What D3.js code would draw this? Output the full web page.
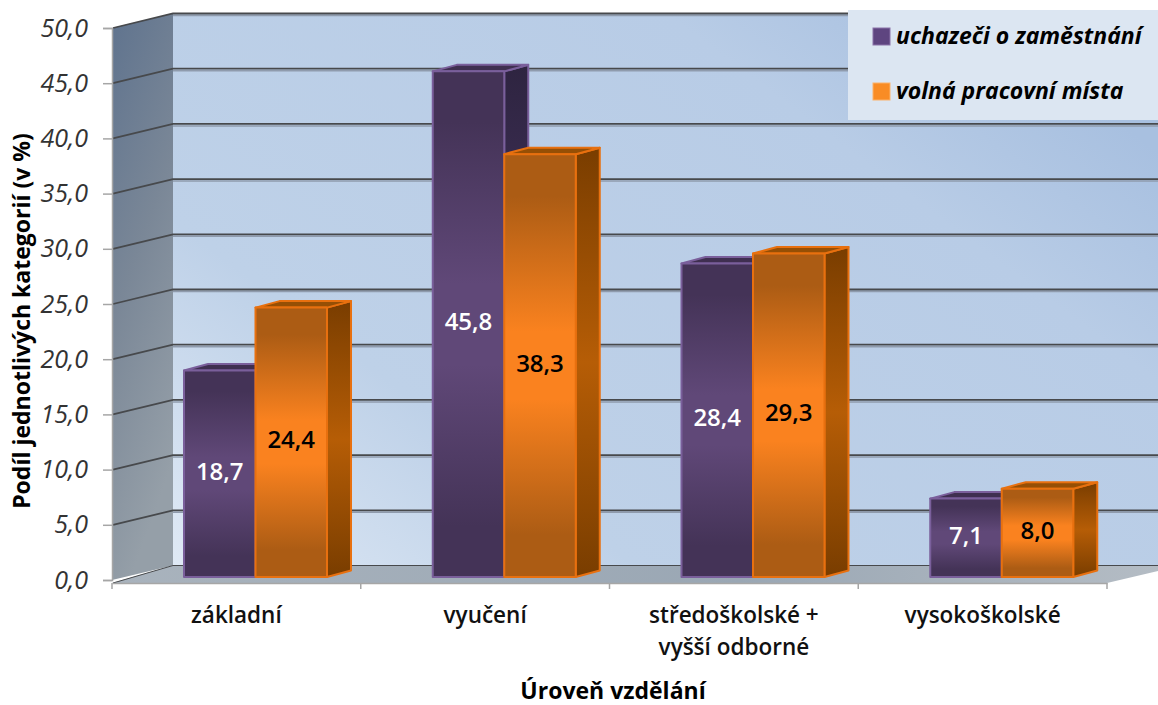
<!DOCTYPE html>
<html>
<head>
<meta charset="utf-8">
<title>Podíl jednotlivých kategorií</title>
<style>
    html, body { margin: 0; padding: 0; background: #fff; }
    svg { display: block; font-family: 'Open Sans', 'Noto Sans', sans-serif; }
</style>
</head>
<body>
<script src="https://d3js.org/d3.v7.min.js"></script>
<script>
    const categories = ['základní', 'vyučení', 'středoškolské +|vyšší odborné', 'vysokoškolské'];
    const seriesNames = ['uchazeči o zaměstnání', 'volná pracovní místa'];
    const uchazeci = [18.7, 45.8, 28.4, 7.1];
    const mista = [24.4, 38.3, 29.3, 8.0];
    const yTicks = [0, 5, 10, 15, 20, 25, 30, 35, 40, 45, 50];

    const width = 1158, height = 705;
    const fmt = d => d.toFixed(1).replace('.', ',');

    // front plane of the axis box, back wall is shifted by depth
    const plot = {left: 112, right: 1107, top: 28, bottom: 580};
    const depth = {x: 61, y: -14.5};
    const barDepth = {x: 24, y: -6.5};
    const barBase = -3; // bars stand a bit behind the front edge of the floor

    const x = d3.scaleBand().domain(categories).range([plot.left, plot.right]);
    const y = d3.scaleLinear().domain([0, 50]).range([plot.bottom, plot.top]);
    const inner = d3.scaleBand().domain([0, 1]).range([72, 215]);

    const svg = d3.select('body').append('svg')
        .attr('width', width)
        .attr('height', height);

    const defs = svg.append('defs');
    function gradient(id, stops, x1, y1, x2, y2) {
        const g = defs.append('linearGradient').attr('id', id)
            .attr('x1', x1).attr('y1', y1).attr('x2', x2).attr('y2', y2);
        stops.forEach(s => g.append('stop').attr('offset', s[0]).attr('stop-color', s[1]));
    }
    gradient('wall', [[0, '#dfe9f5'], [0.3, '#bed1e8'], [0.8, '#b8cce6'], [1, '#a8c0e0']], 0, 1, 1, 0.25);
    gradient('side', [[0, '#5f738e'], [0.5, '#7a8797'], [1, '#959fa8']], 0, 0, 0.3, 1);
    gradient('floor', [[0, '#a9b3bd'], [0.6, '#9aa7b4'], [1, '#b4bcc4']], 0, 0, 1, 0);
    const barColors = [
        {front: ['#443357', '#604878'], side: ['#2e2440', '#453460'], top: '#3f2f50', stroke: '#7a5f9b', label: '#fff'},
        {front: ['#ac5c14', '#fa821f'], side: ['#793d00', '#b65d06'], top: '#964f05', stroke: '#e8700f', label: '#000'}
    ];
    barColors.forEach((c, i) => {
        gradient('front' + i, [[0, c.front[0]], [0.1, c.front[0]], [0.42, c.front[1]], [0.58, c.front[1]], [0.9, c.front[0]], [1, c.front[0]]], 0, 0, 0, 1);
        gradient('sideg' + i, [[0, c.side[0]], [0.5, c.side[1]], [1, c.side[0]]], 0, 0, 0, 1);
    });

    const line = d3.line();

    // back wall, runs off the right edge of the picture
    svg.append('path')
        .attr('d', line([[plot.left + depth.x, y(50) + depth.y], [width, y(50) + depth.y], [width, y(0) + depth.y], [plot.left + depth.x, y(0) + depth.y]]) + 'Z')
        .attr('fill', 'url(#wall)');
    // left wall
    svg.append('path')
        .attr('d', line([[plot.left, y(50)], [plot.left + depth.x, y(50) + depth.y], [plot.left + depth.x, y(0) + depth.y], [plot.left, y(0)]]) + 'Z')
        .attr('fill', 'url(#side)');
    // floor
    svg.append('path')
        .attr('d', line([[plot.left, y(0) + 3], [plot.left + depth.x, y(0) + depth.y], [width, y(0) + depth.y], [width, y(0) - 9], [plot.right, y(0) + 3]]) + 'Z')
        .attr('fill', 'url(#floor)');

    // gridlines, with the soft shadow under each
    const grid = svg.append('g').selectAll('g').data(yTicks).join('g');
    grid.append('path')
        .attr('d', d => line([[plot.left + depth.x, y(d) + depth.y + 2], [width, y(d) + depth.y + 2]]))
        .attr('stroke', d => d === 0 ? 'none' : '#8f9bad').attr('stroke-width', 1.5).attr('fill', 'none');
    grid.append('path')
        .attr('d', d => line([[plot.left + 1, y(d) + (d === 0 ? 3 : 0)], [plot.left + depth.x, y(d) + depth.y], [width, y(d) + depth.y]]))
        .attr('stroke', '#47494c').attr('stroke-width', d => d === 0 ? 1 : 1.8).attr('fill', 'none');

    // bars
    const groups = svg.append('g').selectAll('g').data(categories).join('g')
        .attr('transform', d => 'translate(' + x(d) + ',0)');
    const values = [uchazeci, mista];
    function drawBar(sel, s, i) {
        const c = barColors[s];
        const v = values[s][i];
        const x0 = inner(s), x1 = inner(s) + inner.bandwidth();
        const y0 = y(0) + barBase, y1 = y0 - (y(0) - y(v));
        const dx = barDepth.x, dy = barDepth.y;
        const g = sel.append('g')
            .attr('stroke', c.stroke).attr('stroke-width', 2).attr('stroke-linejoin', 'round');
        g.append('path')
            .attr('d', line([[x1, y1], [x1 + dx, y1 + dy], [x1 + dx, y0 + dy], [x1, y0]]) + 'Z')
            .attr('fill', 'url(#sideg' + s + ')');
        g.append('path')
            .attr('d', line([[x0, y1], [x0 + dx, y1 + dy], [x1 + dx, y1 + dy], [x1, y1]]) + 'Z')
            .attr('fill', c.top);
        g.append('rect')
            .attr('x', x0).attr('y', y1)
            .attr('width', x1 - x0).attr('height', y0 - y1)
            .attr('fill', 'url(#front' + s + ')');
        sel.append('text')
            .attr('x', (x0 + x1) / 2)
            .attr('y', (y0 + y1) / 2 + 6)
            .attr('text-anchor', 'middle')
            .attr('font-size', 24).attr('font-weight', 600)
            .attr('fill', c.label)
            .text(fmt(v));
    }
    groups.each(function(d, i) {
        const g = d3.select(this);
        drawBar(g, 0, i);
        drawBar(g, 1, i);
    });

    // axes
    const axisY = svg.append('g').attr('transform', 'translate(' + plot.left + ',0)')
        .call(d3.axisLeft(y).tickValues(yTicks).tickFormat(fmt).tickSize(9).tickPadding(15));
    axisY.select('.domain').attr('stroke', '#a6a6a6').attr('stroke-width', 1.5);
    axisY.selectAll('.tick line').attr('stroke', '#a6a6a6').attr('stroke-width', 1.5);
    axisY.selectAll('.tick text')
        .attr('font-family', "'Open Sans', sans-serif")
        .attr('font-size', 25).attr('font-style', 'italic').attr('fill', '#333');

    const axisX = svg.append('g').attr('transform', 'translate(0,' + (plot.bottom + 3) + ')')
        .call(d3.axisBottom(x).tickValues([]).tickSize(0));
    axisX.select('.domain').attr('stroke', '#a6a6a6').attr('stroke-width', 1.5);
    axisX.selectAll('.edge').data(categories.map(d => x(d)).concat(plot.right)).join('line')
        .attr('class', 'edge')
        .attr('x1', d => d).attr('x2', d => d).attr('y1', 0).attr('y2', 6)
        .attr('stroke', '#a6a6a6').attr('stroke-width', 1.5);

    const catLabels = svg.append('g').selectAll('text').data(categories).join('text')
        .attr('text-anchor', 'middle')
        .attr('font-size', 22.5).attr('font-weight', 600).attr('fill', '#111')
        .attr('transform', d => 'translate(' + (x(d) + x.bandwidth() / 2) + ',623)');
    catLabels.selectAll('tspan').data(d => d.split('|')).join('tspan')
        .attr('x', 0).attr('dy', (d, i) => i ? 32 : 0).text(d => d);

    // axis titles
    svg.append('text')
        .attr('transform', 'translate(30,321) rotate(-90)')
        .attr('text-anchor', 'middle')
        .attr('font-size', 23).attr('font-weight', 700).attr('fill', '#000')
        .text('Podíl jednotlivých kategorií (v %)');
    svg.append('text')
        .attr('x', 613).attr('y', 699)
        .attr('text-anchor', 'middle')
        .attr('font-size', 23).attr('font-weight', 700).attr('fill', '#000')
        .text('Úroveň vzdělání');

    // legend
    const legend = svg.append('g');
    legend.append('rect')
        .attr('x', 848).attr('y', 10).attr('width', width - 848).attr('height', 110)
        .attr('fill', '#dce6f2');
    const legendRow = d3.scalePoint().domain(seriesNames).range([37, 92]);
    const rows = legend.selectAll('g').data(seriesNames).join('g')
        .attr('transform', d => 'translate(0,' + legendRow(d) + ')');
    rows.append('rect')
        .attr('x', 873).attr('y', -9).attr('width', 17).attr('height', 17)
        .attr('fill', (d, i) => i ? '#f98c25' : '#5e4580')
        .attr('stroke', (d, i) => i ? '#fbb26a' : '#8a72a8').attr('stroke-width', 1);
    rows.append('text')
        .attr('x', 896).attr('y', 7)
        .attr('font-size', 23).attr('font-weight', 700).attr('font-style', 'italic').attr('fill', '#000')
        .text(d => d);
</script>
</body>
</html>
